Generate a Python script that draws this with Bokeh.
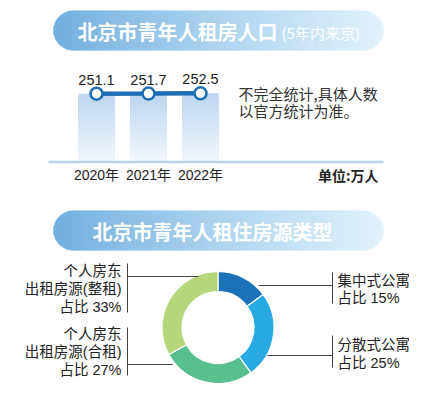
import numpy as np
from bokeh.plotting import figure
from bokeh.models import Range1d
from bokeh.core.properties import value
from bokeh.embed import file_html
from bokeh.resources import INLINE

# ---------------- data ----------------
years = ["2020年", "2021年", "2022年"]
population = [251.1, 251.7, 252.5]
pop_labels = ["251.1", "251.7", "252.5"]

title1 = "北京市青年人租房人口"
subtitle1 = "(5年内来京)"
note_lines = ["不完全统计,具体人数", "以官方统计为准。"]
unit_label = "单位:万人"

title2 = "北京市青年人租住房源类型"
house_types = ["集中式公寓", "分散式公寓", "个人房东出租房源(合租)", "个人房东出租房源(整租)"]
house_share = [15, 25, 27, 33]
house_colors = ["#1b72b9", "#29a9e1", "#58bf8e", "#b6d67c"]

W, H = 409, 383
SANS = value("Liberation Sans, Noto Sans CJK SC")
CJK = value("Noto Sans CJK SC")


def Y(sy):
    return H - sy


def hex2rgb(h):
    h = h.lstrip("#")
    return np.array([int(h[i:i + 2], 16) for i in (0, 2, 4)], dtype=float)


def mix(c1, c2, t):
    c = hex2rgb(c1) * (1 - t) + hex2rgb(c2) * t
    return "#%02x%02x%02x" % tuple(int(round(v)) for v in c)


p = figure(width=W, height=H, output_backend="svg", toolbar_location=None,
           x_range=Range1d(0, W), y_range=Range1d(0, H), min_border=0)
p.axis.visible = False
p.grid.visible = False
p.outline_line_color = None
p.background_fill_color = "white"

# value / index ranges for the bar-line chart
k = 68 / 252.0
base = Y(161)
p.extra_y_ranges = {"val": Range1d(start=(0 - base) / k, end=(H - base) / k)}
x0, dx = 96.0, 52.0
p.extra_x_ranges = {"idx": Range1d(start=(0 - x0) / dx, end=(W - x0) / dx)}


def banner(sy_center):
    left, right, r = 53.0, 383.0, 20.0
    xs = np.arange(left, right, 1.0)
    lefts, rights, tops, bots, cols = [], [], [], [], []
    for x in xs:
        xm = x + 0.5
        if xm < left + r:
            hh = np.sqrt(max(r * r - (left + r - xm) ** 2, 0))
        elif xm > right - r:
            hh = np.sqrt(max(r * r - (xm - (right - r)) ** 2, 0))
        else:
            hh = r
        t = (xm - left) / (right - left)
        lefts.append(x)
        rights.append(x + 1.05)
        tops.append(Y(sy_center - hh))
        bots.append(Y(sy_center + hh))
        cols.append(mix("#4596d6", "#daeffa", t ** 0.9))
    p.quad(left=lefts, right=rights, top=tops, bottom=bots, fill_color=cols, line_color=None)


# ---------- top banner ----------
banner(30)
p.text(x=[77], y=[Y(31)], text=[title1], text_font=CJK, text_font_style="bold",
       text_font_size="20px", text_color="white", text_baseline="middle", text_align="left")
p.text(x=[281], y=[Y(32)], text=[subtitle1], text_font=CJK,
       text_font_size="15px", text_color="white", text_baseline="middle", text_align="left")

# ---------- bars with vertical gradient (stacked, no gaps) ----------
idx = list(range(len(years)))
N = 40
bw = 36 / dx
for i, v in zip(idx, population):
    edges = np.linspace(0, v, N + 1)[1:][::-1]          # from full height down
    cols = [mix("#bdd6ef", "#f2f7fc", j / (N - 1)) for j in range(N)]
    p.quad(left=[i - bw / 2] * N, right=[i + bw / 2] * N, bottom=[0] * N, top=edges,
           fill_color=cols, line_color=None, x_range_name="idx", y_range_name="val")

# baseline
p.line(x=[48, 383], y=[Y(161.5), Y(161.5)], line_color="#b9d3eb", line_width=2.5)

# line + markers
p.line(x=idx, y=population, line_color="#1f6db5", line_width=4.5,
       x_range_name="idx", y_range_name="val")
p.scatter(x=idx, y=population, size=12, fill_color="white", line_color="#1f6db5",
          line_width=2.5, x_range_name="idx", y_range_name="val")

p.text(x=idx, y=population, text=pop_labels, y_offset=-14, text_font=SANS,
       text_font_size="14.5px", text_color="#222222", text_align="center", text_baseline="middle",
       x_range_name="idx", y_range_name="val")
p.text(x=idx, y=[0] * 3, text=years, y_offset=13, text_font=SANS,
       text_font_size="14px", text_color="#222222", text_align="center", text_baseline="middle",
       x_range_name="idx", y_range_name="val")

# note + unit
p.text(x=[238, 238], y=[Y(93), Y(110)], text=note_lines, text_font=CJK,
       text_font_size="15px", text_color="#333333", text_align="left", text_baseline="middle")
p.text(x=[378], y=[Y(174)], text=[unit_label], text_font=CJK, text_font_style="bold",
       text_font_size="14px", text_color="#222222", text_align="right", text_baseline="middle")

# ---------- bottom banner ----------
banner(230)
p.text(x=[92], y=[Y(231)], text=[title2], text_font=CJK, text_font_style="bold",
       text_font_size="20px", text_color="white", text_baseline="middle", text_align="left")

# ---------- donut ----------
cx, cy = 217.5, Y(327)
frac = np.array(house_share, dtype=float) / sum(house_share)
cum = np.concatenate([[0], np.cumsum(frac)])
starts = np.pi / 2 - 2 * np.pi * cum[:-1]
ends = np.pi / 2 - 2 * np.pi * cum[1:]
p.annular_wedge(x=[cx] * 4, y=[cy] * 4, inner_radius=36, outer_radius=56,
                start_angle=starts, end_angle=ends, direction="clock",
                fill_color=house_colors, line_color="white", line_width=1.2)

# leader lines
lc = "#444444"
p.segment(x0=[127, 127, 258, 267], y0=[Y(276), Y(364), Y(285), Y(355)],
          x1=[198, 172, 332, 332], y1=[Y(276), Y(364), Y(285), Y(355)],
          line_color=lc, line_width=1)
p.segment(x0=[127, 127, 332, 332], y0=[Y(263), Y(327), Y(272), Y(335)],
          x1=[127, 127, 332, 332], y1=[Y(312), Y(375), Y(303), Y(367)],
          line_color=lc, line_width=1)

# labels
left_lines = ["个人房东", "出租房源(整租)", "占比 %d%%" % house_share[3],
              "个人房东", "出租房源(合租)", "占比 %d%%" % house_share[2]]
left_y = [270, 288, 306, 333, 351, 369]
p.text(x=[121] * 6, y=[Y(v) for v in left_y], text=left_lines, text_font=SANS,
       text_font_size="14.5px", text_color="#222222", text_align="right", text_baseline="middle")
right_lines = [house_types[0], "占比 %d%%" % house_share[0],
               house_types[1], "占比 %d%%" % house_share[1]]
right_y = [280, 297, 344, 362]
p.text(x=[337] * 4, y=[Y(v) for v in right_y], text=right_lines, text_font=SANS,
       text_font_size="14.5px", text_color="#222222", text_align="left", text_baseline="middle")

open("out.html", "w").write(file_html(p, INLINE))
